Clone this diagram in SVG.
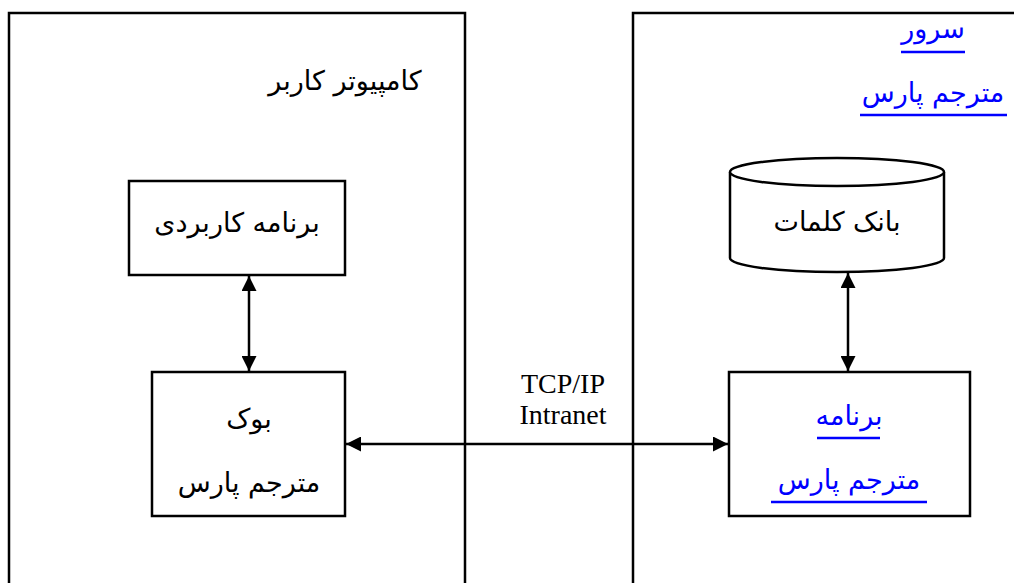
<svg xmlns="http://www.w3.org/2000/svg" width="1014" height="583" viewBox="0 0 1014 583">
<style>
.frame{fill:none;stroke:#000;stroke-width:2.5}
.box{fill:#fff;stroke:#000;stroke-width:2.5}
.fa{font-family:"DejaVu Sans","Noto Sans",sans-serif;font-size:27px;fill:#000;text-anchor:middle}
.link{fill:#0000ff}
.ul{stroke:#0000ff;stroke-width:2.5}
.en{font-family:"Liberation Serif",serif;font-size:28px;fill:#000;text-anchor:middle}
.conn{stroke:#000;stroke-width:2.5;fill:none;marker-start:url(#ah);marker-end:url(#ah)}
</style>
<defs>
<marker id="ah" viewBox="0 0 10 10" refX="10" refY="5" markerWidth="6" markerHeight="6" orient="auto-start-reverse" markerUnits="strokeWidth">
<path d="M0,0 L10,5 L0,10 z" fill="#000"/>
</marker>
</defs>
<rect width="1014" height="583" fill="#fff"/>
<g id="user-computer">
<path class="frame" d="M9,583 V13 H465 V583"/>
<text class="fa" x="345" y="90">کامپیوتر کاربر</text>
</g>
<g id="server">
<path class="frame" d="M633,583 V13 H1016"/>
<text class="fa link" x="933" y="38">سرور</text>
<line class="ul" x1="901" y1="52" x2="965" y2="52"/>
<text class="fa link" x="933" y="102">مترجم پارس</text>
<line class="ul" x1="860" y1="115" x2="1007" y2="115"/>
</g>
<g id="app">
<rect class="box" x="129" y="181" width="216" height="94"/>
<text class="fa" x="237" y="232">برنامه کاربردی</text>
</g>
<g id="hook">
<rect class="box" x="152" y="372" width="193" height="144"/>
<text class="fa" x="249" y="428">بوک</text>
<text class="fa" x="249" y="492">مترجم پارس</text>
</g>
<g id="wordbank">
<path class="box" d="M730,172 V258 A107,14 0 0 0 944,258 V172"/>
<ellipse class="box" cx="837" cy="172" rx="107" ry="14"/>
<text class="fa" x="837" y="231">بانک کلمات</text>
</g>
<g id="translator">
<rect class="box" x="729" y="372" width="241" height="144"/>
<text class="fa link" x="849" y="425">برنامه</text>
<line class="ul" x1="817" y1="438" x2="880" y2="438"/>
<text class="fa link" x="849" y="489">مترجم پارس</text>
<line class="ul" x1="771" y1="502" x2="927" y2="502"/>
</g>
<g id="network-label">
<text class="en" x="563" y="393">TCP/IP</text>
<text class="en" x="563" y="424">Intranet</text>
</g>
<g id="connectors">
<line class="conn" x1="249" y1="276" x2="249" y2="371"/>
<line class="conn" x1="848" y1="273" x2="848" y2="371"/>
<line class="conn" x1="346" y1="444" x2="728" y2="444"/>
</g>
</svg>
